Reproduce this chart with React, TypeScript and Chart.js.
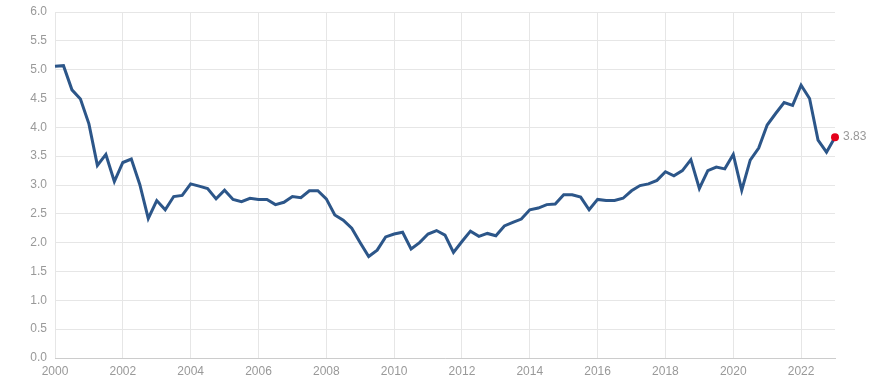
import React, { useEffect, useRef } from "react";
import { Chart, registerables } from "chart.js";

Chart.register(...registerables);

const startYear = 2000;
const quarterStep = 0.25;
const values: number[] = [
  5.06, 5.07, 4.65, 4.49, 4.06, 3.34, 3.53, 3.06, 3.39, 3.45, 3.01, 2.42,
  2.73, 2.57, 2.80, 2.82, 3.02, 2.98, 2.94, 2.76, 2.91, 2.75, 2.71, 2.77,
  2.75, 2.75, 2.66, 2.70, 2.80, 2.78, 2.90, 2.90, 2.76, 2.48, 2.39, 2.25,
  2.00, 1.76, 1.87, 2.10, 2.15, 2.18, 1.89, 2.00, 2.15, 2.21, 2.13, 1.83,
  2.02, 2.20, 2.11, 2.16, 2.12, 2.29, 2.35, 2.41, 2.57, 2.60, 2.66, 2.67,
  2.83, 2.83, 2.79, 2.57, 2.75, 2.73, 2.73, 2.77, 2.90, 2.99, 3.02, 3.08,
  3.23, 3.16, 3.25, 3.44, 2.94, 3.25, 3.31, 3.28, 3.53, 2.91, 3.43, 3.64,
  4.04, 4.24, 4.43, 4.38, 4.73, 4.50, 3.78, 3.57, 3.83,
];
const xTickLabels: number[] = [2000, 2002, 2004, 2006, 2008, 2010, 2012, 2014, 2016, 2018, 2020, 2022];
const yTickStep = 0.5;
const yMin = 0;
const yMax = 6;
const lastLabel = "3.83";

const lineColor = "#2c5689";
const markerColor = "#e4001b";
const textColor = "#999999";
const gridColor = "#e6e6e6";

export default function App() {
  const ref = useRef<HTMLCanvasElement | null>(null);

  useEffect(() => {
    if (!ref.current) return;
    const points = values.map((v, i) => ({ x: startYear + i * quarterStep, y: v }));
    const lastIdx = points.length - 1;
    const xMax = points[lastIdx].x;

    const lastLabelPlugin = {
      id: "lastLabel",
      afterDatasetsDraw(chart: any) {
        const meta = chart.getDatasetMeta(0);
        const pt = meta.data[lastIdx];
        if (!pt) return;
        const ctx = chart.ctx;
        ctx.save();
        ctx.fillStyle = textColor;
        ctx.font = "12px 'Liberation Sans', Arial, sans-serif";
        ctx.textAlign = "left";
        ctx.textBaseline = "middle";
        ctx.fillText(lastLabel, pt.x + 8, pt.y);
        ctx.restore();
      },
    };

    const chart = new Chart(ref.current, {
      type: "line",
      data: {
        datasets: [
          {
            data: points,
            borderColor: lineColor,
            borderWidth: 3,
            tension: 0,
            pointRadius: points.map((_, i) => (i === lastIdx ? 4 : 0)),
            pointBackgroundColor: markerColor,
            pointBorderColor: markerColor,
            pointBorderWidth: 0,
            fill: false,
            clip: false as any,
          },
        ],
      },
      options: {
        animation: false,
        responsive: false,
        events: [],
        layout: { autoPadding: false, padding: { left: 0, right: 55, top: 12, bottom: 0 } },
        plugins: {
          legend: { display: false },
          tooltip: { enabled: false },
          title: { display: false },
        },
        scales: {
          x: {
            type: "linear",
            min: startYear,
            max: xMax,
            afterFit: (s: any) => {
              s.height = 26;
              s.paddingLeft = 0;
              s.paddingRight = 0;
            },
            afterBuildTicks: (s: any) => {
              s.ticks = xTickLabels.map((v) => ({ value: v }));
            },
            ticks: {
              autoSkip: false,
              color: textColor,
              font: { family: "'Liberation Sans', Arial, sans-serif", size: 12 },
              padding: 6,
              maxRotation: 0,
              callback: (v: any) => String(v),
            },
            grid: { color: gridColor, drawTicks: false },
            border: { color: "#cccccc" },
          },
          y: {
            min: yMin,
            max: yMax,
            afterFit: (s: any) => {
              s.width = 55;
              s.paddingTop = 0;
              s.paddingBottom = 0;
            },
            ticks: {
              stepSize: yTickStep,
              color: textColor,
              font: { family: "'Liberation Sans', Arial, sans-serif", size: 12 },
              padding: 8,
              callback: (v: any) => Number(v).toFixed(1),
            },
            grid: { color: gridColor, drawTicks: false },
            border: { display: false },
          },
        },
      },
      plugins: [lastLabelPlugin],
    });
    return () => chart.destroy();
  }, []);

  return (
    <div style={{ position: "absolute", left: 0, top: 0, width: 890, height: 384, background: "#fff" }}>
      <canvas ref={ref} width={890} height={384} style={{ display: "block" }} />
    </div>
  );
}
